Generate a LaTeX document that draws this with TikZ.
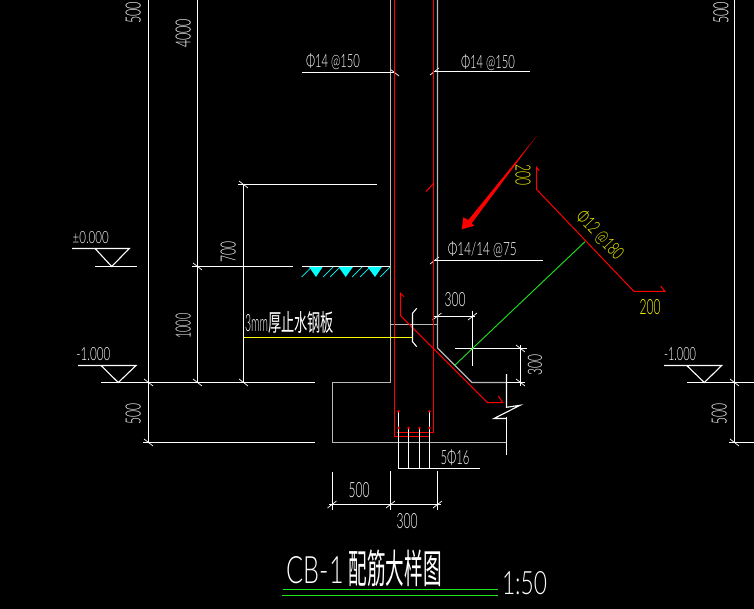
\documentclass[tikz,border=0pt]{standalone}
\usepackage{fontspec}
\usepackage{graphicx}
\setmainfont{Lato}[UprightFont=* Light]
\newfontfamily\cjkcad{Noto Sans CJK SC}
\newcommand{\cad}[3]{\resizebox{#1pt}{#2pt}{#3}}
\newcommand{\cadcjk}[3]{\resizebox*{#1pt}{#2pt}{\cjkcad #3}}
\definecolor{cadgray}{RGB}{185,185,185}
\definecolor{cadred}{RGB}{255,0,0}
\definecolor{cadgreen}{RGB}{30,230,30}
\definecolor{cadyellow}{RGB}{255,255,0}
\definecolor{cadcyan}{RGB}{0,255,255}
\tikzset{
  wl/.style={white,line width=1.1pt},
  gl/.style={cadgray,line width=1.1pt},
  rl/.style={cadred,line width=1.0pt},
  rb/.style={cadred,line width=1.3pt},
  yl/.style={cadyellow,line width=1.0pt},
  grl/.style={cadgreen,line width=0.9pt},
  cl/.style={cadcyan,line width=0.7pt},
  txt/.style={inner sep=0pt,outer sep=0pt,text=white},
  ytxt/.style={inner sep=0pt,outer sep=0pt,text=cadyellow},
}
\begin{document}
\begin{tikzpicture}[x=1pt,y=-1pt]
\useasboundingbox (0,0) rectangle (754,609);
\clip (0,0) rectangle (754,609);
\fill[black] (0,0) rectangle (754,609);

% left dimension lines
\draw[wl] (148.5,0) -- (148.5,442.5);
\draw[wl] (197.5,0) -- (197.5,382.5);
\draw[wl] (243.5,184.5) -- (243.5,382.5);
\draw[wl] (238,184.5) -- (376.7,184.5);
\draw[wl] (192,266.5) -- (292.7,266.5);
\draw[wl] (101,382.5) -- (315,382.5);
\draw[wl] (143.3,442.5) -- (315,442.5);
\draw[wl] (302,266.5) -- (390.5,266.5);
% right dimension lines
\draw[wl] (734.5,0) -- (734.5,442.5);
\draw[wl] (687,382.5) -- (754,382.5);
\draw[wl] (729.3,442.5) -- (754,442.5);
% back-slash ticks
\foreach \px/\py in {148.5/382.5,197.5/382.5,243.5/382.5,148.5/442.5,197.5/266.5,243.5/184.5,734.5/382.5,734.5/442.5,394.5/72.5,520.5/348.5,520.5/382.5}
  \draw[wl,line width=0.7pt] (\px-4.5,\py-3.5) -- (\px+4.5,\py+3.5);
% slash ticks
\foreach \px/\py in {434.5/71.5,434.5/260.5,437/316.5,472.5/316.5,332/504.5,390.5/504.5,437.5/504.5}
  \draw[wl,line width=0.7pt] (\px-4.5,\py+3.5) -- (\px+4.5,\py-3.5);

% level marks
\draw[wl] (72,248.5) -- (129.3,248.5) -- (111.7,266.5) -- (95,248.5);
\draw[wl] (95,266.5) -- (136.7,266.5);
\draw[wl] (78,365.5) -- (136,365.5) -- (118.3,382.5) -- (101,365.5);
\draw[wl] (664,365.5) -- (721.7,365.5) -- (704.3,382.5) -- (686.7,365.5);

% ground hatch
\fill[cadcyan] (309,266.8) -- (322.7,266.8) -- (316,277) -- cycle;
\fill[cadcyan] (338.5,266.8) -- (353,266.8) -- (345.7,277) -- cycle;
\fill[cadcyan] (367.5,266.8) -- (382,266.8) -- (375,277) -- cycle;
\foreach \hx in {301.7,323,330,352,360,380}
  \draw[cl] (\hx,277) -- (\hx+10,267);

% concrete outline
\draw[gl] (390.5,0) -- (390.5,382.5) -- (332.5,382.5) -- (332.5,442.5) -- (506.5,442.5);
\draw[gl] (437.5,0) -- (437.5,348) -- (472,382.5) -- (506.5,382.5);
\draw[gl] (390.5,324.5) -- (437.5,324.5);
\draw[wl] (506.5,382.5) -- (525,382.5);

% break line
\draw[wl] (506.5,374) -- (506.5,407.3) -- (520,405.3) -- (494,418.5) -- (506.5,418.5);
\draw[wl] (506.5,416.5) -- (506.5,455);

% rebars
\draw[rb] (394.5,0) -- (394.5,436.5) -- (429.3,436.5);
\draw[rl] (433.5,0) -- (433.5,432.5) -- (397,432.5);
\draw[rl] (433.5,183.3) -- (426,191.7);
\draw[rl] (404,296.7) -- (400.5,293.3) -- (400.5,315.7) -- (487.3,402.5) -- (502.7,402.5) -- (498.3,396);

% leaders to bars
\draw[wl] (398.5,411.3) -- (398.5,468.5);
\draw[wl] (408.5,428) -- (408.5,468.5);
\draw[wl] (419.5,428) -- (419.5,468.5);
\draw[wl] (429.5,411.3) -- (429.5,468.5);
\draw[wl] (398.5,468.5) -- (480,468.5);
\foreach \bx/\by in {398.5/411.3,429.5/411.3,398.5/428,408.5/428,419.5/428,429.5/428}
  \fill[cadred] (\bx,\by) circle (1.4pt);

% bottom dimension
\draw[wl] (332.5,472) -- (332.5,510);
\draw[wl] (390.5,471) -- (390.5,510);
\draw[wl] (437.5,471) -- (437.5,510);
\draw[wl] (329,504.5) -- (441,504.5);

% labels' leader lines
\draw[wl] (302,72.5) -- (394,72.5);
\draw[wl] (434,71.5) -- (530,71.5);
\draw[wl] (434,260.5) -- (542.7,260.5);
\draw[yl] (243.5,337.5) -- (412.5,337.5);
\draw[wl] (416.7,308.3) -- (412.5,313.3) -- (412.5,341.7) -- (416.7,346.7);

% diagonal dimensions
\draw[wl] (434,316.5) -- (475,316.5);
\draw[wl] (472.5,310.7) -- (472.5,366);
\draw[wl] (455,348.5) -- (526.7,348.5);
\draw[wl] (520.5,345) -- (520.5,386);

% green section line and detail bar
\draw[grl] (454,366) -- (585,241.7);
\draw[rl] (539.3,170.7) -- (536.5,167.3) -- (536.5,189.3) -- (634,291.5) -- (665,291.5) -- (660.7,286);

% red marker arrow
\fill[cadred] (536.7,136) -- (471.7,223.3) -- (474.3,225.7) -- (461.7,229.3) -- (463.3,217.3) -- (468.3,220) -- cycle;

% title rules
\draw[cadgreen,line width=1pt] (283,589.5) -- (497.7,589.5);
\draw[cadgreen,line width=1pt] (282,595.5) -- (497.7,595.5);

% texts
\node[txt] (t1) at (333,62) {\cad{54}{14}{Φ14 @150}};
\node[txt] (t2) at (488,62.5) {\cad{54}{14}{Φ14 @150}};
\node[txt] (t3) at (482.3,250) {\cad{69}{14}{Φ14/14 @75}};
\node[txt] (t4) at (455,300) {\cad{21}{14}{300}};
\node[txt,rotate=90] (t5) at (535,365) {\cad{21}{14}{300}};
\node[txt] (t6) at (455,458) {\cad{29}{15}{5Φ16}};
\node[txt] (t7) at (359,490) {\cad{21}{15}{500}};
\node[txt] (t8) at (407,520.7) {\cad{21}{15}{300}};
\node[txt] (t9) at (90.7,237.7) {\cad{36}{12}{±0.000}};
\node[txt] (t10) at (93.3,354.3) {\cad{34}{13}{-1.000}};
\node[txt] (t11) at (680,354.3) {\cad{32}{13}{-1.000}};
\node[txt,rotate=90] (t12) at (228.3,251.7) {\cad{21}{15}{700}};
\node[txt,rotate=90] (t13) at (183.3,326) {\cad{25}{15}{1000}};
\node[txt,rotate=90] (t14) at (133.3,414.3) {\cad{21}{15}{500}};
\node[txt,rotate=90] (t15) at (719.3,414.3) {\cad{21}{15}{500}};
\node[txt,rotate=90] (t16) at (183.3,33.5) {\cad{29}{15}{4000}};
\node[txt,rotate=90] (t17) at (133.3,13) {\cad{22}{15}{500}};
\node[txt,rotate=90] (t18) at (721,13) {\cad{22}{15}{500}};
\node[txt,anchor=base west] (t19) at (245,331) {\cad{23}{17}{3mm}\cadcjk{66}{22}{厚止水钢板}};
\node[ytxt,rotate=-90] (t20) at (523,175) {\cad{21}{15}{200}};
\node[ytxt,rotate=-47] (t21) at (600,235) {\cad{60}{14}{Φ12 @180}};
\node[ytxt] (t22) at (650,306.7) {\cad{21}{15}{200}};
\node[txt,anchor=base west] (t23) at (286.7,583.3) {\cad{57}{27}{CB-1}\hspace{5pt}\cadcjk{93}{37}{配筋大样图}};
\node[txt] (t24) at (524.5,583) {\cad{45}{23}{1:50}};
\end{tikzpicture}
\end{document}
